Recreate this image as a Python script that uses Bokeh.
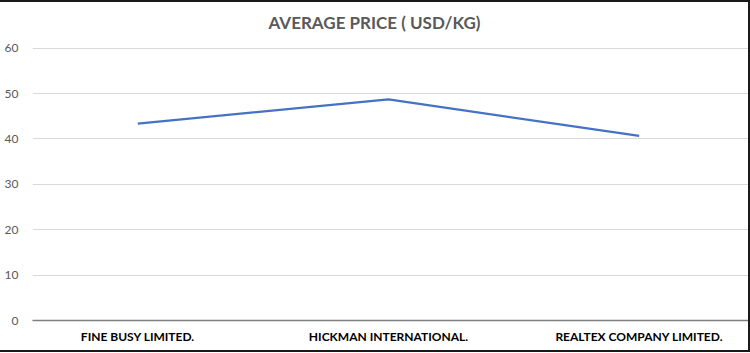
from bokeh.plotting import figure
from bokeh.embed import file_html
from bokeh.resources import INLINE
from bokeh.models import FixedTicker, Range1d, Title

# ---- data ----
companies = ["FINE BUSY LIMITED.", "HICKMAN INTERNATIONAL.", "REALTEX COMPANY LIMITED."]
avg_price = [43.4, 48.7, 40.7]
y_ticks = [0, 10, 20, 30, 40, 50, 60]
title_text = "AVERAGE PRICE ( USD/KG)"

xs = list(range(len(companies)))

p = figure(width=750, height=352, output_backend="svg", toolbar_location=None,
           x_range=Range1d(-0.42, 2.444), y_range=Range1d(0, 60.15),
           min_border_left=32, min_border_right=0, min_border_top=45, min_border_bottom=34)
p.styles = {"border-top": "2px solid #1a1a1a", "border-right": "2px solid #1a1a1a",
            "border-bottom": "2px solid #1a1a1a", "box-sizing": "border-box"}

p.line(xs, avg_price, line_color="#4472C4", line_width=2.25)

p.title.text = title_text
p.title.align = "left"
p.title.vertical_align = "top"
p.title.text_font = "Lato"
p.title.text_font_size = "17px"
p.title.text_font_style = "bold"
p.title.text_color = "#595959"
p.title.standoff = 0
p.title.offset = 236

# empty spacer between the title and the plot area
p.add_layout(Title(text=" ", text_font_size="6px", standoff=5), "above")

p.outline_line_color = None
p.background_fill_color = "white"
p.border_fill_color = "white"

p.xgrid.visible = False
p.ygrid.grid_line_color = "#d9d9d9"
p.ygrid.grid_line_width = 1
p.ygrid.ticker = FixedTicker(ticks=y_ticks)

p.xaxis.ticker = FixedTicker(ticks=xs)
p.xaxis.major_label_overrides = {i: c for i, c in zip(xs, companies)}
p.xaxis.major_label_text_font = "Lato"
p.xaxis.major_label_text_font_size = "12px"
p.xaxis.major_label_text_font_style = "bold"
p.xaxis.major_label_text_color = "#000000"
p.xaxis.major_tick_line_color = None
p.xaxis.minor_tick_line_color = None
p.xaxis.axis_line_color = "#7f7f7f"
p.xaxis.axis_line_width = 1.5
p.xaxis.major_label_standoff = 2

p.yaxis.ticker = FixedTicker(ticks=y_ticks)
p.yaxis.major_label_text_font = "Lato"
p.yaxis.major_label_text_font_size = "12px"
p.yaxis.major_label_text_color = "#595959"
p.yaxis.axis_line_color = None
p.yaxis.major_tick_line_color = None
p.yaxis.minor_tick_line_color = None
p.yaxis.major_label_standoff = 8

open("out.html", "w").write(file_html(p, INLINE))
